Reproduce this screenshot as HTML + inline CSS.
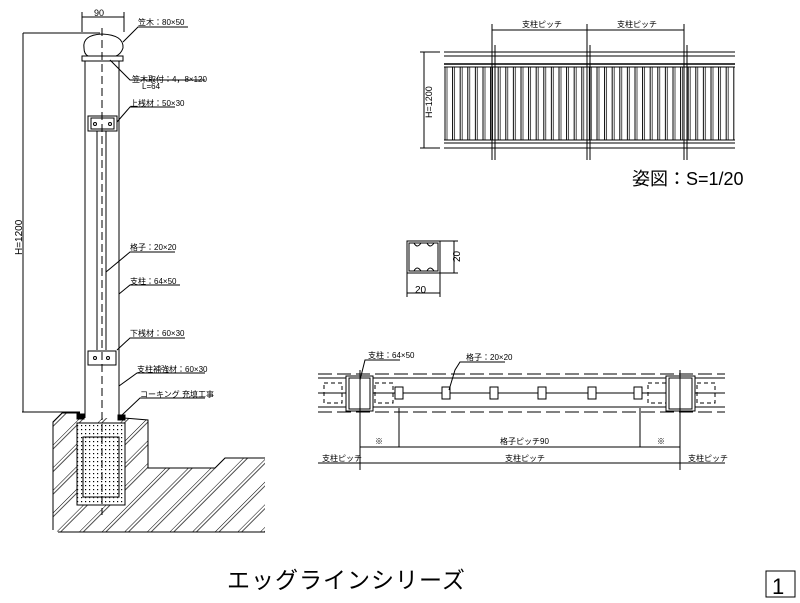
<!DOCTYPE html>
<html><head><meta charset="utf-8"><style>
html,body{margin:0;padding:0;background:#fff;}
svg{display:block;}
text{font-family:"Liberation Sans","Noto Sans CJK JP",sans-serif;fill:#000;}
</style></head><body>
<svg width="800" height="603" viewBox="0 0 800 603" xmlns="http://www.w3.org/2000/svg">
<defs>
<pattern id="hatch" width="16" height="16" patternUnits="userSpaceOnUse" patternTransform="rotate(45)">
<line x1="0" y1="0" x2="0" y2="16" stroke="#000" stroke-width="1"/>
<line x1="3" y1="0" x2="3" y2="16" stroke="#000" stroke-width="0.7"/>
</pattern>
<pattern id="dots" width="4" height="4" patternUnits="userSpaceOnUse">
<rect x="1" y="1" width="1.2" height="1.2" fill="#000"/>
</pattern>
<pattern id="bal" width="7.6" height="10" patternUnits="userSpaceOnUse" x="444">
<line x1="1" y1="0" x2="1" y2="10" stroke="#000" stroke-width="1"/>
<line x1="3" y1="0" x2="3" y2="10" stroke="#000" stroke-width="0.7"/>
</pattern>
</defs>
<g stroke="#000" fill="none" stroke-width="1">
<line x1="82" y1="12" x2="82" y2="32"/><line x1="124" y1="12" x2="124" y2="32"/>
<line x1="82" y1="17" x2="124" y2="17"/>
<line x1="23" y1="33" x2="100" y2="33"/>
<line x1="23" y1="33" x2="23" y2="412"/>
<line x1="22" y1="412" x2="80" y2="412"/>
<path d="M84 48 Q82 35 102 34 Q124 35 123 48 Q121 54 116 56 L88 56 Q84 54 84 48 Z"/>
<rect x="82" y="56" width="41" height="5"/>
<line x1="85" y1="61" x2="85" y2="418"/><line x1="119" y1="61" x2="119" y2="418"/>
<line x1="102" y1="28" x2="102" y2="515" stroke-dasharray="8,4"/>
<rect x="88" y="116" width="29" height="15"/>
<rect x="91" y="118" width="23" height="11"/>
<line x1="97" y1="131" x2="97" y2="350"/><line x1="106" y1="131" x2="106" y2="350"/>
<rect x="88" y="351" width="28" height="14"/>
<circle cx="95" cy="358" r="1.5"/><circle cx="108" cy="358" r="1.5"/>
<circle cx="95" cy="124" r="1.5"/><circle cx="110" cy="124" r="1.5"/>
<polyline points="123,42 138,27 188,27"/>
<polyline points="110,60 130,80 205,80"/>
<polyline points="117,122 130,107 175,107"/>
<polyline points="106,272 130,252 175,252"/>
<polyline points="119,294 130,285 180,285"/>
<polyline points="117,350 130,338 185,338"/>
<polyline points="119,386 137,373 205,373"/>
<polyline points="121,416 140,398 205,398"/>
<path d="M53 530 L53 422 L62 413 L80 413 L80 418 L124 418 L148 420 L148 468 L215 468 L225 458 L265 458 L265 532 L58 532 Z M77 423 L77 505 L125 505 L125 423 Z" fill="url(#hatch)" fill-rule="evenodd" stroke="none"/>
<path d="M53 530 L53 422 L62 413 L80 413 M124 418 L148 420 L148 468 L215 468 L225 458 L265 458 M58 532 L265 532"/>
<rect x="77" y="423" width="48" height="82" fill="url(#dots)"/>
<rect x="77" y="423" width="48" height="82"/>
<rect x="83" y="437" width="36" height="60"/>
<rect x="77" y="414" width="7" height="5" fill="#000"/>
<rect x="118" y="415" width="7" height="5" fill="#000"/>

<line x1="492" y1="24" x2="492" y2="160"/><line x1="495" y1="45" x2="495" y2="160"/>
<line x1="587" y1="24" x2="587" y2="160"/><line x1="590" y1="45" x2="590" y2="160"/>
<line x1="684" y1="24" x2="684" y2="160"/><line x1="687" y1="45" x2="687" y2="160"/>
<line x1="492" y1="30" x2="684" y2="30"/>
<line x1="424" y1="52" x2="424" y2="148"/>
<line x1="420" y1="52" x2="440" y2="52"/><line x1="420" y1="148" x2="440" y2="148"/>
<line x1="444" y1="52" x2="735" y2="52"/><line x1="444" y1="56" x2="735" y2="56"/>
<line x1="444" y1="64" x2="735" y2="64" stroke-width="1.5"/><line x1="444" y1="67" x2="735" y2="67"/>
<rect x="444" y="67" width="291" height="73" fill="url(#bal)" stroke="none"/>
<line x1="444" y1="140" x2="735" y2="140"/><line x1="444" y1="143" x2="735" y2="143"/>
<line x1="444" y1="148" x2="735" y2="148"/>

<rect x="407" y="241" width="33" height="32"/>
<rect x="409" y="243" width="29" height="28"/>
<path d="M414 243 q3 6 7 0 M427 243 q3 6 7 0 M414 271 q3 -6 7 0 M427 271 q3 -6 7 0"/>
<line x1="440" y1="241" x2="458" y2="241"/><line x1="440" y1="273" x2="458" y2="273"/>
<line x1="454" y1="241" x2="454" y2="273"/>
<line x1="407" y1="273" x2="407" y2="297"/><line x1="440" y1="273" x2="440" y2="297"/>
<line x1="407" y1="293" x2="440" y2="293"/>

<line x1="318" y1="374" x2="725" y2="374" stroke-dasharray="14,5"/>
<line x1="318" y1="378" x2="725" y2="378"/>
<line x1="318" y1="407" x2="725" y2="407"/>
<line x1="318" y1="412" x2="725" y2="412" stroke-dasharray="14,5"/>
<line x1="318" y1="393" x2="725" y2="393"/>
<rect x="346" y="376" width="27" height="35" fill="#fff"/>
<rect x="349" y="378" width="21" height="31"/>
<line x1="360" y1="370" x2="360" y2="470"/>
<rect x="666" y="376" width="29" height="35" fill="#fff"/>
<rect x="669" y="378" width="23" height="31"/>
<line x1="680" y1="370" x2="680" y2="470"/>
<rect x="324" y="383" width="18" height="20" stroke-dasharray="4,3"/>
<rect x="375" y="383" width="18" height="20" stroke-dasharray="4,3"/>
<rect x="697" y="383" width="18" height="20" stroke-dasharray="4,3"/>
<rect x="648" y="383" width="18" height="20" stroke-dasharray="4,3"/>
<g fill="#fff">
<rect x="395" y="387" width="8" height="12"/><rect x="442" y="387" width="8" height="12"/>
<rect x="490" y="387" width="8" height="12"/><rect x="538" y="387" width="8" height="12"/>
<rect x="588" y="387" width="8" height="12"/><rect x="634" y="387" width="8" height="12"/>
</g>
<polyline points="449,390 455,370 460,362 505,362"/>
<polyline points="360,380 365,360 400,360"/>
<line x1="399" y1="408" x2="399" y2="447"/><line x1="640" y1="408" x2="640" y2="447"/>
<line x1="360" y1="447" x2="680" y2="447"/>
<line x1="318" y1="463" x2="725" y2="463"/>
<rect x="766" y="571" width="29" height="26"/>
</g>
<g font-size="8">
<text x="138" y="25">笠木：80×50</text>
<text x="132" y="82">笠木取付：4，8×120</text>
<text x="142" y="89">L=64</text>
<text x="130" y="106">上桟材：50×30</text>
<text x="130" y="250">格子：20×20</text>
<text x="130" y="284">支柱：64×50</text>
<text x="130" y="336">下桟材：60×30</text>
<text x="137" y="372">支柱補強材：60×30</text>
<text x="140" y="397">コーキング 充填工事</text>
<text x="522" y="27">支柱ピッチ</text>
<text x="617" y="27">支柱ピッチ</text>
<text x="368" y="358">支柱：64×50</text>
<text x="466" y="360">格子：20×20</text>
<text x="375" y="444">※</text>
<text x="500" y="444">格子ピッチ90</text>
<text x="657" y="444">※</text>
<text x="322" y="461">支柱ピッチ</text>
<text x="505" y="461">支柱ピッチ</text>
<text x="688" y="461">支柱ピッチ</text>
</g>
<text x="94" y="16" font-size="9">90</text>
<text x="415" y="293" font-size="10">20</text>
<text transform="translate(460,262) rotate(-90)" font-size="10">20</text>
<text transform="translate(22,255) rotate(-90)" font-size="10">H=1200</text>
<text transform="translate(432,118) rotate(-90)" font-size="9">H=1200</text>
<text x="632" y="185" font-size="18">姿図：S=1/20</text>
<text x="227" y="588" font-size="23" letter-spacing="1">エッグラインシリーズ</text>
<text x="772" y="594" font-size="22">1</text>
</svg>
</body></html>
